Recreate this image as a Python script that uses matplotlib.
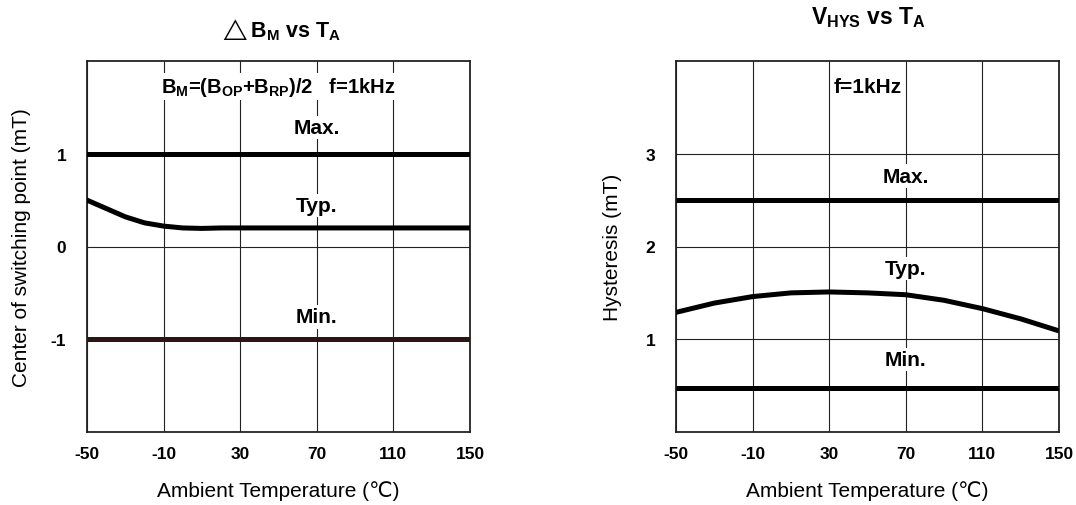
import matplotlib
matplotlib.use("Agg")
import matplotlib.pyplot as plt

plt.rcParams['font.family'] = ['Liberation Sans', 'DejaVu Sans']
plt.rcParams['mathtext.fontset'] = 'custom'
plt.rcParams['mathtext.rm'] = 'Liberation Sans'
plt.rcParams['mathtext.bf'] = 'Liberation Sans:bold'
plt.rcParams['mathtext.it'] = 'Liberation Sans:italic'
plt.rcParams['mathtext.fallback'] = 'stixsans'

# ---- data ----
temp_ticks = [-50, -10, 30, 70, 110, 150]

# Left: center of switching point (mT)
bm_max_t = [-50, 150]
bm_max_v = [1.0, 1.0]
bm_typ_t = [-50, -40, -30, -20, -10, 0, 10, 20, 30, 50, 70, 90, 110, 130, 150]
bm_typ_v = [0.50, 0.41, 0.32, 0.255, 0.22, 0.20, 0.195, 0.2, 0.2, 0.2, 0.2, 0.2, 0.2, 0.2, 0.2]
bm_min_t = [-50, 150]
bm_min_v = [-1.0, -1.0]
bm_yticks = [-1, 0, 1]

# Right: hysteresis (mT)
hys_max_t = [-50, 150]
hys_max_v = [2.5, 2.5]
hys_typ_t = [-50, -30, -10, 10, 30, 50, 70, 90, 110, 130, 150]
hys_typ_v = [1.29, 1.39, 1.46, 1.50, 1.51, 1.50, 1.48, 1.42, 1.33, 1.22, 1.09]
hys_min_t = [-50, 150]
hys_min_v = [0.47, 0.47]
hys_yticks = [1, 2, 3]

W, H = 1076, 506
fig = plt.figure(figsize=(W / 100, H / 100), dpi=100)

def px_axes(x0, y0, x1, y1):
    return fig.add_axes([x0 / W, 1 - y1 / H, (x1 - x0) / W, (y1 - y0) / H])

ax1 = px_axes(87, 62, 470, 433)
ax2 = px_axes(676, 62, 1059, 433)

LW = 3.6
bbox = dict(facecolor='white', edgecolor='none', pad=1.5)
TXT = 15

def style(ax, ylim, yticks, ylabel):
    ax.set_xlim(-50, 150)
    ax.set_ylim(*ylim)
    ax.set_xticks(temp_ticks)
    ax.set_xticklabels([str(t) for t in temp_ticks], fontsize=12.5, fontweight='bold')
    ax.set_yticks(yticks)
    ax.set_yticklabels([str(t) for t in yticks], fontsize=12.5, fontweight='bold')
    ax.tick_params(axis='x', length=0, pad=10)
    ax.tick_params(axis='y', length=0, pad=15)
    ax.grid(True, color='#222222', linewidth=0.8)
    ax.set_axisbelow(True)
    for s in ax.spines.values():
        s.set_linewidth(1.3)
        s.set_color('#222222')
    ax.set_xlabel('Ambient Temperature (℃)', fontsize=15, labelpad=14)
    ax.set_ylabel(ylabel, fontsize=15)

# Left panel
style(ax1, (-2, 2), bm_yticks, 'Center of switching point (mT)')
ax1.plot(bm_max_t, bm_max_v, color='black', lw=LW, solid_capstyle='round', zorder=3)
ax1.plot(bm_typ_t, bm_typ_v, color='black', lw=LW, solid_capstyle='round',
         solid_joinstyle='round', zorder=3)
ax1.plot(bm_min_t, bm_min_v, color='#2e1515', lw=LW, solid_capstyle='butt', zorder=3)
ax1.text(50, 1.73, r'$\mathbf{B_{M}}$=($\mathbf{B_{OP}}$+$\mathbf{B_{RP}}$)/2   f=1kHz',
         ha='center', va='center', fontsize=14.5, fontweight='bold', bbox=bbox, zorder=2)
ax1.text(70, 1.28, 'Max.', ha='center', va='center', fontsize=TXT, fontweight='bold', bbox=bbox, zorder=2)
ax1.text(70, 0.44, 'Typ.', ha='center', va='center', fontsize=TXT, fontweight='bold', bbox=bbox, zorder=2)
ax1.text(70, -0.76, 'Min.', ha='center', va='center', fontsize=TXT, fontweight='bold', bbox=bbox, zorder=2)
ax1.yaxis.set_label_coords(-0.145, 0.5)

# Right panel
style(ax2, (0, 4), hys_yticks, 'Hysteresis (mT)')
ax2.plot(hys_max_t, hys_max_v, color='black', lw=LW, solid_capstyle='butt', zorder=3)
ax2.plot(hys_typ_t, hys_typ_v, color='black', lw=LW, solid_capstyle='butt',
         solid_joinstyle='round', zorder=3)
ax2.plot(hys_min_t, hys_min_v, color='black', lw=LW, solid_capstyle='butt', zorder=3)
ax2.text(50, 3.73, 'f=1kHz', ha='center', va='center', fontsize=TXT, fontweight='bold', bbox=bbox, zorder=2)
ax2.text(70, 2.76, 'Max.', ha='center', va='center', fontsize=TXT, fontweight='bold', bbox=bbox, zorder=2)
ax2.text(70, 1.76, 'Typ.', ha='center', va='center', fontsize=TXT, fontweight='bold', bbox=bbox, zorder=2)
ax2.text(70, 0.78, 'Min.', ha='center', va='center', fontsize=TXT, fontweight='bold', bbox=bbox, zorder=2)
ax2.yaxis.set_label_coords(-0.142, 0.5)

# Titles
fig.text(280 / W, 1 - 30 / H, r'$\triangle\mathbf{B_{M}}$ vs $\mathbf{T_{A}}$', ha='center', va='center',
         fontsize=15.5, fontweight='bold')
fig.text(868 / W, 1 - 18 / H, r'$\mathbf{V_{HYS}}$ vs $\mathbf{T_{A}}$', ha='center', va='center',
         fontsize=16.5, fontweight='bold')

fig.savefig('out.png', dpi=100, facecolor='white')
